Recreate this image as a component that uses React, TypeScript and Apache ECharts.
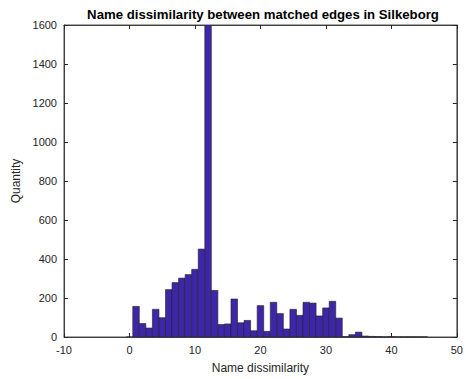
import React, { useEffect, useRef } from "react";
import * as echarts from "echarts";

const binCenters: number[] = [
  0, 1, 2, 3, 4, 5, 6, 7, 8, 9, 10, 11, 12, 13, 14, 15, 16, 17, 18, 19, 20, 21, 22,
  23, 24, 25, 26, 27, 28, 29, 30, 31, 32, 33, 34, 35, 36, 37, 38, 39, 40, 41, 42, 43, 44, 45,
];
const quantities: number[] = [
  0, 157, 69, 46, 142, 99, 243, 279, 302, 320, 347, 451, 1600, 239, 64, 67, 195, 73, 85, 32,
  161, 29, 178, 120, 41, 142, 111, 178, 174, 108, 149, 183, 97, 2, 12, 25, 5, 3, 2, 1, 2, 1,
  1, 1, 1, 1,
];
const xTicks: number[] = [-10, 0, 10, 20, 30, 40, 50];
const yTicks: number[] = [0, 200, 400, 600, 800, 1000, 1200, 1400, 1600];

const titleText = "Name dissimilarity between matched edges in Silkeborg";
const xLabel = "Name dissimilarity";
const yLabel = "Quantity";

export default function App() {
  const ref = useRef<HTMLDivElement>(null);
  useEffect(() => {
    if (!ref.current) return;
    const chart = echarts.init(ref.current, undefined, { renderer: "svg" });
    const axisColor = "#262626";
    const font = "Arial, 'Liberation Sans', Helvetica, sans-serif";
    const data = binCenters.map((c, i) => [c, quantities[i]]);
    const plain = (v: number) => String(v);
    const common = {
      axisLine: { show: true, onZero: false, lineStyle: { color: axisColor, width: 0.8 } },
      axisTick: { show: true, inside: true, length: 4, lineStyle: { color: axisColor } },
      splitLine: { show: false },
    };
    chart.setOption({
      animation: false,
      backgroundColor: "#ffffff",
      textStyle: { fontFamily: font },
      title: {
        text: titleText,
        left: 263,
        top: 8,
        padding: 0,
        textAlign: "center",
        textStyle: { fontSize: 13.2, fontWeight: "bold", color: "#000", fontFamily: font },
      },
      grid: {
        left: 64,
        right: 5,
        top: 25,
        bottom: 42,
        show: true,
        borderColor: axisColor,
        borderWidth: 0.8,
        backgroundColor: "transparent",
      },
      xAxis: [
        {
          ...common,
          type: "value",
          min: xTicks[0],
          max: xTicks[xTicks.length - 1],
          interval: 10,
          name: xLabel,
          nameLocation: "middle",
          nameGap: 25,
          nameTextStyle: { fontSize: 12, color: axisColor },
          axisLabel: { fontSize: 11, color: axisColor, margin: 7, formatter: plain },
        },
        {
          ...common,
          type: "value",
          position: "top",
          min: xTicks[0],
          max: xTicks[xTicks.length - 1],
          interval: 10,
          axisLabel: { show: false },
        },
      ],
      yAxis: [
        {
          ...common,
          type: "value",
          min: yTicks[0],
          max: yTicks[yTicks.length - 1],
          interval: 200,
          name: yLabel,
          nameLocation: "middle",
          nameGap: 33,
          nameTextStyle: { fontSize: 12, color: axisColor },
          axisLabel: { fontSize: 11, color: axisColor, margin: 7, formatter: plain },
        },
        {
          ...common,
          type: "value",
          position: "right",
          min: yTicks[0],
          max: yTicks[yTicks.length - 1],
          interval: 200,
          axisLabel: { show: false },
        },
      ],
      series: [
        {
          type: "custom",
          xAxisIndex: 0,
          yAxisIndex: 0,
          clip: true,
          data,
          renderItem: (params: any, api: any) => {
            const x = api.value(0);
            const y = api.value(1);
            const p0 = api.coord([x - 0.5, y]);
            const p1 = api.coord([x + 0.5, 0]);
            return {
              type: "rect",
              shape: { x: p0[0], y: p0[1], width: p1[0] - p0[0], height: p1[1] - p0[1] },
              style: { fill: "#3E26A8", stroke: "#222222", lineWidth: 0.6 },
            };
          },
        },
        {
          type: "line",
          xAxisIndex: 1,
          yAxisIndex: 1,
          data: [],
          silent: true,
        },
      ],
    });
    return () => chart.dispose();
  }, []);
  return (
    <div
      ref={ref}
      style={{ position: "absolute", left: 0, top: 0, width: 466, height: 379 }}
    />
  );
}
